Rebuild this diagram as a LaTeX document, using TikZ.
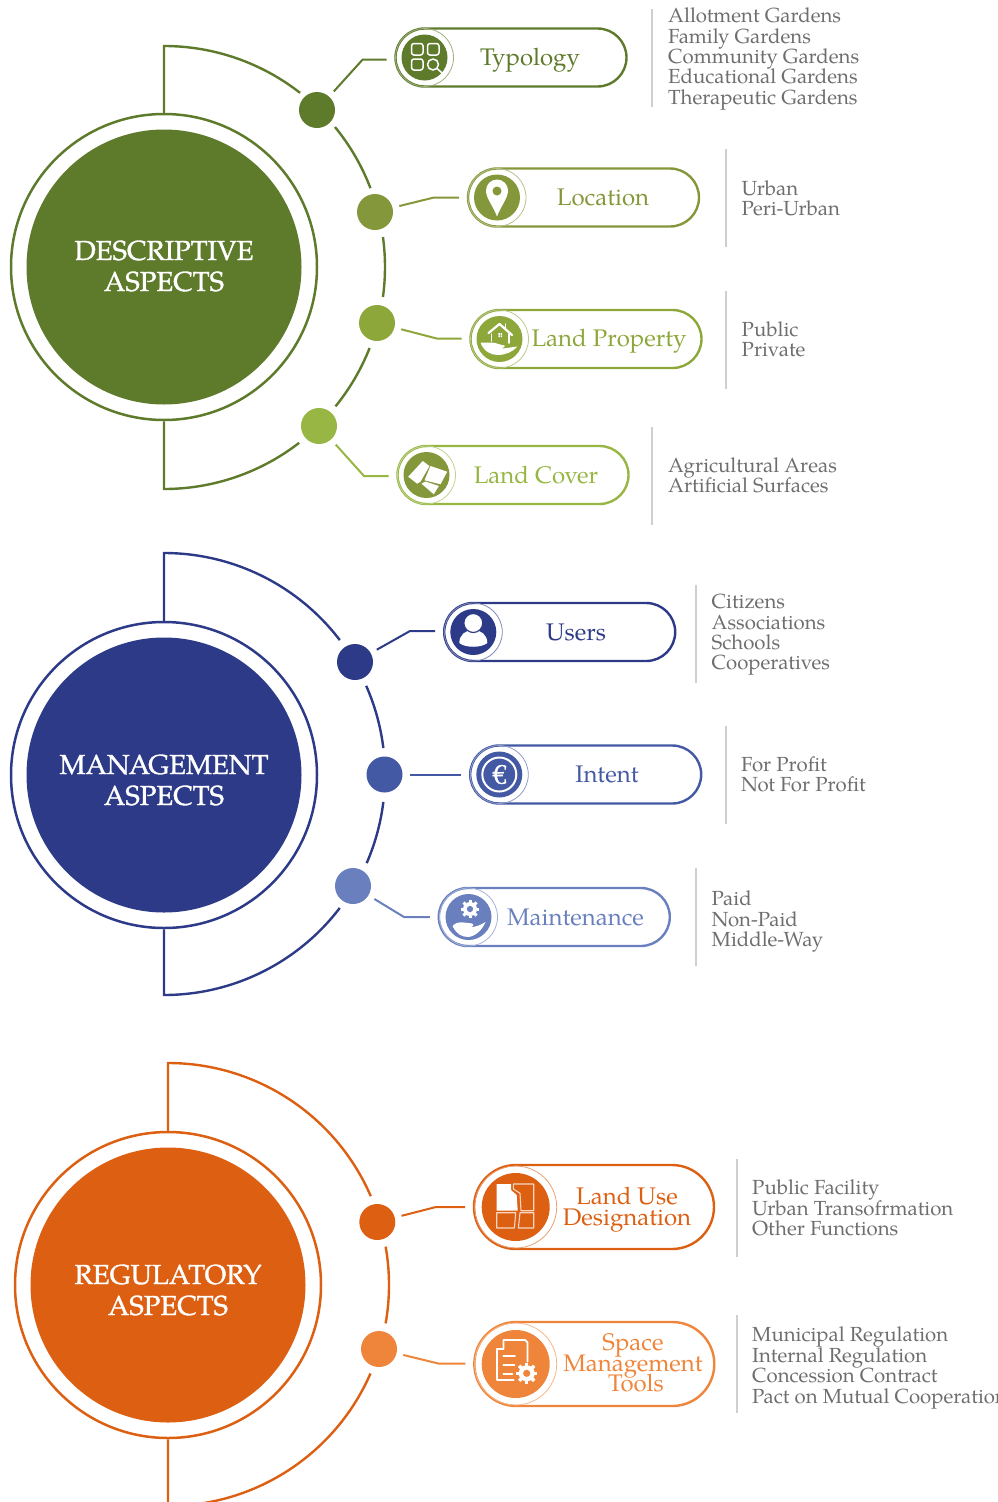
\documentclass[tikz,border=0pt]{standalone}
\usepackage{fontspec}
\setmainfont{TeX Gyre Pagella}
\newfontface\capface[FakeBold=1.2]{TeX Gyre Pagella}
\usepackage{xcolor}
\usepackage{tikz}
\usetikzlibrary{shapes.misc}
\definecolor{grnA}{HTML}{5E7A2B}
\definecolor{grnB}{HTML}{84973A}
\definecolor{grnC}{HTML}{8DA73B}
\definecolor{grnD}{HTML}{97B643}
\definecolor{bluA}{HTML}{2D3A87}
\definecolor{bluB}{HTML}{4459A4}
\definecolor{bluC}{HTML}{6A80BE}
\definecolor{ornA}{HTML}{DC5F12}
\definecolor{ornB}{HTML}{EF853A}
\definecolor{sidegray}{HTML}{6E6E6E}
\definecolor{barcolor}{HTML}{CFCFCF}
\newcommand{\tightlines}{\lineskiplimit=-20pt\relax}
\newcommand{\cogwheel}[4]{
    \fill [white] (#1) circle (#2);
    \foreach \a in {0, 45, ..., 315}
        \draw [white, line width = #3] (#1) ++(\a:#2 - 0.5) -- ++(\a:#3 * 0.9);
    \fill [#4] (#1) circle (#2 * 0.45);
}
\begin{document}
\begin{tikzpicture}[x = 1pt, y = 1pt,
    bigdisc/.style = {circle, fill = #1, minimum size = 275pt, inner sep = 0pt},
    bigring/.style = {circle, draw = #1, line width = 2.5pt, minimum size = 306pt, inner sep = 0pt},
    bigtext/.style = {align = center, text = white, inner sep = 0pt,
        font = \capface\fontsize{27.5}{31}\selectfont\tightlines},
    bead/.style = {circle, fill = #1, minimum size = 36pt, inner sep = 0pt, outer sep = 7pt},
    pill/.style = {rounded rectangle, draw = #1, line width = 2.4pt, minimum width = 231pt,
        minimum height = 58pt, inner sep = 0pt, outer sep = 9pt},
    badge/.style = {circle, fill = #1, minimum size = 46pt, inner sep = 0pt},
    halo/.style = {circle, draw = #1!60, line width = 0.8pt, minimum size = 58pt, inner sep = 0pt},
    pilltext/.style = {text = #1, align = center, inner sep = 0pt,
        font = \fontsize{24}{20.7}\selectfont\tightlines},
    sidebar/.style = {rectangle, fill = barcolor, minimum width = 2pt, minimum height = 98pt, inner sep = 0pt},
    sidelist/.style = {anchor = west, align = left, text = sidegray, inner sep = 0pt,
        font = \fontsize{20.4}{20.4}\selectfont\tightlines},
    link/.style = {draw = #1, line width = 2pt},
    orbit/.style = {draw = #1, line width = 2.4pt},
    ikon/.style = {draw = white, line width = 1.5pt, line join = round, line cap = round}]
\useasboundingbox (0, 0) rectangle (998, -1502);

\node [bigring = grnA] (descring) at (164, -267) {};
\node [bigdisc = grnA] (desc) at (164, -267) {};
\node [bigtext] (desclabel) at (164, -266) {DESCRIPTIVE\\ASPECTS};
\coordinate (desctop) at (164, -46);
\coordinate (descbot) at (164, -489);
\draw [orbit = grnA] (descring.north) -- (desctop) arc [start angle = 90, end angle = 52, radius = 221];
\draw [orbit = grnA] (desc.center) ++(39.3:221) arc [start angle = 39.3, end angle = 20.9, radius = 221];
\draw [orbit = grnA] (desc.center) ++(7.8:221) arc [start angle = 7.8, end angle = -7.8, radius = 221];
\draw [orbit = grnA] (desc.center) ++(-21.5:221) arc [start angle = -21.5, end angle = -39.1, radius = 221];
\draw [orbit = grnA] (descring.south) -- (descbot) arc [start angle = -90, end angle = -52.3, radius = 221];

\node [bead = grnA] (dottypology) at (317, -110) {};
\node [bead = grnB] (dotlocation) at (375, -212) {};
\node [bead = grnC] (dotproperty) at (377, -323) {};
\node [bead = grnD] (dotcover) at (319, -426) {};

\node [pill = grnA] (pilltypology) at (511, -57.5) {};
\node [pill = grnB] (pilllocation) at (583.5, -197.5) {};
\node [pill = grnC] (pillproperty) at (586, -339) {};
\node [pill = grnD] (pillcover) at (513, -475) {};

\coordinate (kneetypology) at (362.7, -59.5);
\coordinate (kneelocation) at (434, -197.5);
\coordinate (kneeproperty) at (436.7, -338.5);
\coordinate (kneecover) at (364, -476);
\draw [link = grnA] (dottypology) -- (kneetypology) -- (kneetypology -| pilltypology.west);
\draw [link = grnB] (dotlocation) -- (kneelocation) -- (kneelocation -| pilllocation.west);
\draw [link = grnC] (dotproperty) -- (kneeproperty) -- (kneeproperty -| pillproperty.west);
\draw [link = grnD] (dotcover) -- (kneecover) -- (kneecover -| pillcover.west);

\node [halo = grnA] (halotypology) at (424.5, -57.5) {};
\node [badge = grnA] (icontypology) at (424.5, -57.5) {};
\node [halo = grnB] (halolocation) at (497, -197.5) {};
\node [badge = grnB] (iconlocation) at (497, -197.5) {};
\node [halo = grnC] (haloproperty) at (499.5, -339) {};
\node [badge = grnC] (iconproperty) at (499.5, -339) {};
\node [halo = grnD] (halocover) at (426.5, -475) {};
\node [badge = grnB] (iconcover) at (426.5, -475) {};

\begin{scope}[shift = {(icontypology)}]
\draw [ikon, rounded corners = 2.5pt] (-13, 2.5) rectangle (-1.5, 14);
\draw [ikon, rounded corners = 2.5pt] (3, 2.5) rectangle (14.5, 14);
\draw [ikon, rounded corners = 2.5pt] (-13, -12.5) rectangle (-1.5, -1.5);
\draw [ikon] (8.5, -7) circle (5.5);
\draw [ikon] (12.5, -11) -- (17, -15);
\end{scope}
\begin{scope}[shift = {(iconlocation)}]
\fill [white] (0, -19) .. controls (-4, -8) and (-11, -1) .. (-11, 7)
    arc [start angle = 180, end angle = 0, radius = 11] .. controls (11, -1) and (4, -8) .. cycle;
\fill [grnB] (0, 6.5) circle (4.5);
\end{scope}
\begin{scope}[shift = {(iconproperty)}]
\draw [ikon, line width = 2.2pt] (-11, 6) -- (0, 15) -- (12.5, 4);
\draw [ikon] (-8, 5) -- (-8, -2);
\draw [ikon] (9.5, 5) -- (9.5, -4);
\draw [ikon] (6, 15) -- (6, 11);
\fill [white] (-1.2, 2) rectangle (0.4, 3.6) (1, 2) rectangle (2.6, 3.6)
    (-1.2, 4.2) rectangle (0.4, 5.8) (1, 4.2) rectangle (2.6, 5.8);
\fill [white] (-19, -3.5) -- (-7, -3.5) .. controls (-3, -4) and (1, -6) .. (5, -6.5)
    .. controls (6, -8) and (3, -9.5) .. (-1, -9.5) .. controls (5, -10) and (12, -8) .. (18, -7.5)
    .. controls (13, -13) and (6, -16) .. (-2, -16) .. controls (-9, -16) and (-16, -12) .. cycle;
\end{scope}
\begin{scope}[shift = {(iconcover)}]
\fill [white] (-18.3, -1.7) -- (-3.7, 14) -- (3, 9) -- (-6, -6.7) -- (-9.3, -8.7) -- cycle;
\fill [white] (4, 9) -- (20.7, 3.3) -- (14, -9.3) -- (-2, -5.3) -- cycle;
\fill [white] (-5, -8.7) -- (-1, -6.5) -- (12.3, -11) -- (7.3, -19.3) -- cycle;
\end{scope}

\node [pilltext = grnA] (labeltypology) at (530, -60) {Typology};
\node [pilltext = grnB] (labellocation) at (603, -197.5) {Location};
\node [pilltext = grnC] (labelproperty) at (609, -341.5) {Land Property};
\node [pilltext = grnD] (labelcover) at (536, -475) {Land Cover};

\node [sidebar] (bartypology) at (652, -58) {};
\node [sidebar] (barlocation) at (725.7, -198) {};
\node [sidebar] (barproperty) at (725.7, -339.5) {};
\node [sidebar] (barcover) at (652, -476) {};
\node [sidelist] (listtypology) at (668, -59) {Allotment Gardens\\Family Gardens\\Community Gardens\\Educational Gardens\\Therapeutic Gardens};
\node [sidelist] (listlocation) at (741.5, -198) {Urban\\Peri-Urban};
\node [sidelist] (listproperty) at (741.5, -339.5) {Public\\Private};
\node [sidelist] (listcover) at (668, -475.5) {Agricultural Areas\\Artificial Surfaces};

\node [bigring = bluA] (mgmtring) at (164, -775) {};
\node [bigdisc = bluA] (mgmt) at (164, -775) {};
\node [bigtext] (mgmtlabel) at (164, -780) {MANAGEMENT\\ASPECTS};
\coordinate (mgmttop) at (164, -553);
\coordinate (mgmtbot) at (164, -995);
\draw [orbit = bluA] (mgmtring.north) -- (mgmttop) arc [start angle = 90, end angle = 37.3, radius = 221];
\draw [orbit = bluA] (mgmt.center) ++(23.8:221) arc [start angle = 23.8, end angle = 7, radius = 221];
\draw [orbit = bluA] (mgmt.center) ++(-7:221) arc [start angle = -7, end angle = -23.5, radius = 221];
\draw [orbit = bluA] (mgmtring.south) -- (mgmtbot) arc [start angle = -90, end angle = -37.3, radius = 221];

\node [bead = bluA] (dotusers) at (355, -662) {};
\node [bead = bluB] (dotintent) at (384.5, -774.5) {};
\node [bead = bluC] (dotmaint) at (353, -886) {};

\node [pill = bluA] (pillusers) at (559.7, -632) {};
\node [pill = bluB] (pillintent) at (585.7, -774.5) {};
\node [pill = bluC] (pillmaint) at (554.3, -917) {};

\coordinate (kneeusers) at (410, -631);
\coordinate (kneemaint) at (404, -917);
\draw [link = bluA] (dotusers) -- (kneeusers) -- (kneeusers -| pillusers.west);
\draw [link = bluB] (dotintent) -- (pillintent);
\draw [link = bluC] (dotmaint) -- (kneemaint) -- (kneemaint -| pillmaint.west);

\node [halo = bluA] (halousers) at (473.3, -632) {};
\node [badge = bluA] (iconusers) at (473.3, -632) {};
\node [halo = bluB] (halointent) at (499.3, -774.5) {};
\node [badge = bluB] (iconintent) at (499.3, -774.5) {};
\node [halo = bluC] (halomaint) at (468.5, -917) {};
\node [badge = bluC] (iconmaint) at (468.5, -917) {};

\begin{scope}[shift = {(iconusers)}]
\fill [white] (-14, -11) .. controls (-14, -3) and (-8, 2) .. (0, 2)
    .. controls (8, 2) and (14, -3) .. (14, -11) .. controls (8, -16) and (-8, -16) .. cycle;
\draw [bluA, fill = white, line width = 1.2pt] (0, 9) circle (9.5);
\end{scope}
\begin{scope}[shift = {(iconintent)}]
\draw [ikon, line width = 2pt] (0, 0) circle (17);
\node [text = white, inner sep = 0pt, font = \capface\fontsize{27}{27}\selectfont] (euro) at (0, 0) {€};
\end{scope}
\begin{scope}[shift = {(iconmaint)}]
\cogwheel{1.5, 8}{7}{3}{bluC}
\fill [white] (-16, -9) .. controls (-10, -3) and (-5, -6) .. (0, -6)
    .. controls (6, -6) and (6, -9) .. (2, -10) .. controls (8, -10) and (12, -8) .. (17, -5)
    .. controls (14, -12) and (8, -19) .. (0, -20) .. controls (-7, -20) and (-12, -17) .. cycle;
\end{scope}

\node [pilltext = bluA] (labelusers) at (576, -632) {Users};
\node [pilltext = bluB] (labelintent) at (607, -774.5) {Intent};
\node [pilltext = bluC] (labelmaint) at (575.5, -917) {Maintenance};

\node [sidebar] (barusers) at (696, -633.5) {};
\node [sidebar] (barintent) at (726, -774.5) {};
\node [sidebar] (barmaint) at (696, -916.5) {};
\node [sidelist] (listusers) at (711.5, -635) {Citizens\\Associations\\Schools\\Cooperatives};
\node [sidelist] (listintent) at (741, -774.5) {For Profit\\Not For Profit};
\node [sidelist] (listmaint) at (711.5, -921.5) {Paid\\Non-Paid\\Middle-Way};

\node [bigring = ornA] (regring) at (168, -1285) {};
\node [bigdisc = ornA] (reg) at (168, -1285) {};
\node [bigtext] (reglabel) at (168, -1290) {REGULATORY\\ASPECTS};
\coordinate (regtop) at (168, -1063);
\coordinate (regbot) at (168, -1506);
\draw [orbit = ornA] (regring.north) -- (regtop) arc [start angle = 90, end angle = 23.4, radius = 221];
\draw [orbit = ornA] (reg.center) ++(10:221) arc [start angle = 10, end angle = -10, radius = 221];
\draw [orbit = ornA] (regring.south) -- (regbot) arc [start angle = -90, end angle = -23.6, radius = 221];

\node [bead = ornA] (dotuse) at (377.3, -1222) {};
\node [bead = ornB] (dottools) at (379, -1349) {};

\node [pill = ornA, minimum width = 240pt, minimum height = 84pt] (pilluse) at (594, -1207) {};
\node [pill = ornB, minimum width = 240pt, minimum height = 84pt] (pilltools) at (594.3, -1364) {};

\coordinate (kneeuse) at (436, -1207);
\coordinate (kneetools) at (438.3, -1363.5);
\draw [link = ornA] (dotuse) -- (kneeuse) -- (kneeuse -| pilluse.west);
\draw [link = ornB] (dottools) -- (kneetools) -- (kneetools -| pilltools.west);

\node [halo = ornA, minimum size = 82pt] (halouse) at (515.7, -1207) {};
\node [badge = ornA, minimum size = 68pt] (iconuse) at (515.7, -1207) {};
\node [halo = ornB, minimum size = 82pt] (halotools) at (515.7, -1364) {};
\node [badge = ornB, minimum size = 68pt] (icontools) at (515.7, -1364) {};

\begin{scope}[shift = {(iconuse)}]
\fill [white] (-19, 23) -- (-4.7, 23) -- (-4.7, 17) -- (1, 12) -- (2, -3.7) -- (-19, -3.7) -- cycle;
\draw [ikon, draw = white!75!ornA, line width = 1.1pt] (-2.3, 23) -- (18, 23) -- (18, -3.7)
    -- (5.3, -3.7) -- (4.3, 13.7) -- (-2.3, 18) -- cycle;
\draw [ikon, draw = white!75!ornA, line width = 1.1pt] (-19, -5.7) -- (0, -5.7) -- (-1.3, -21) -- (-19, -21) -- cycle;
\draw [ikon, draw = white!75!ornA, line width = 1.1pt] (4.3, -5.7) -- (18, -5.7) -- (18, -21) -- (2.7, -21) -- cycle;
\end{scope}
\begin{scope}[shift = {(icontools)}]
\draw [ikon, line width = 1.8pt] (-12.3, 15) -- (-12.3, 24) -- (9.3, 24) -- (11.7, 21.7) -- (11.7, 2.3);
\draw [ikon, line width = 1.8pt] (-12.3, 15) -- (-19, 15) -- (-19, -16) -- (-2, -16);
\draw [ikon, line width = 1.8pt] (-12.3, 8.3) -- (-0.7, 8.3);
\draw [ikon, line width = 1.8pt] (-12.3, -1) -- (-1.3, -1);
\draw [ikon, line width = 1.8pt] (-12.3, -10.3) -- (-3.3, -10.3);
\cogwheel{11, -9.3}{8}{3.5}{ornB}
\end{scope}

\node [pilltext = ornA] (labeluse) at (627, -1209.5) {Land Use\\Designation};
\node [pilltext = ornB] (labeltools) at (633, -1363) {Space\\Management\\\hspace*{6pt}Tools};

\node [sidebar] (baruse) at (737, -1207.5) {};
\node [sidebar] (bartools) at (737, -1363.5) {};
\node [sidelist] (listuse) at (752, -1208) {Public Facility\\Urban Transofrmation\\Other Functions};
\node [sidelist] (listtools) at (752, -1368) {Municipal Regulation\\Internal Regulation\\Concession Contract\\Pact on Mutual Cooperation};
\end{tikzpicture}
\end{document}
